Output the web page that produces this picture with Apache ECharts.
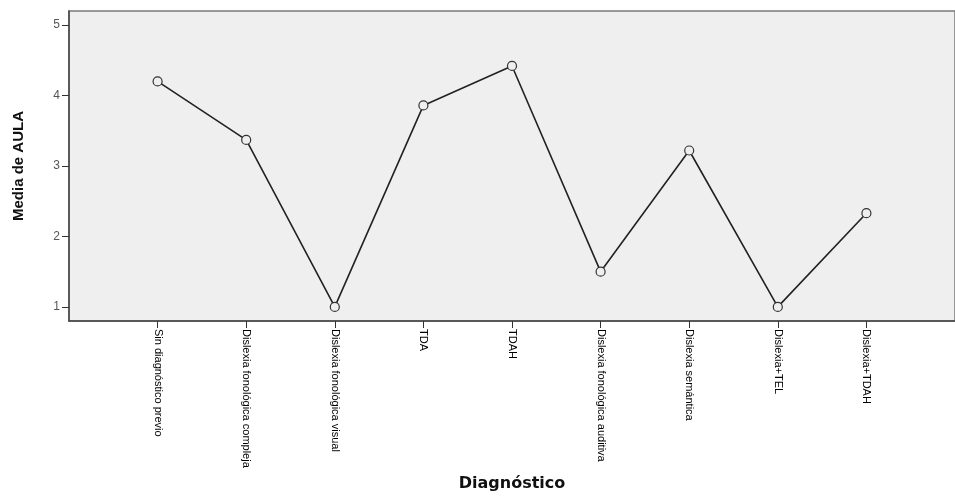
<!DOCTYPE html>
<html>
<head>
<meta charset="utf-8">
<script src="https://cdn.jsdelivr.net/npm/echarts@6/dist/echarts.min.js"></script>
<style>
  html, body { margin: 0; padding: 0; background: #fff; }
  #chart { width: 955px; height: 497px; }
</style>
</head>
<body>
<div id="chart"></div>
<script>
// Diagnostic groups along the horizontal axis
const categories = [
  'Sin diagnóstico previo',
  'Dislexia fonológica compleja',
  'Dislexia fonológica visual',
  'TDA',
  'TDAH',
  'Dislexia fonológica auditiva',
  'Dislexia semántica',
  'Dislexia+TEL',
  'Dislexia+TDAH'
];

// Mean AULA score for each group
const meanAula = [4.20, 3.37, 1.00, 3.86, 4.42, 1.50, 3.22, 1.00, 2.33];

// Vertical tick values
const yTicks = [1, 2, 3, 4, 5];

// Categories sit at positions 1..n on a 0..n+1 scale
const positions = categories.map((_, i) => i + 1);
const points = meanAula.map((v, i) => [positions[i], v]);

const labelFont = "'Liberation Sans', Arial, sans-serif";
const titleFont = "'Liberation Sans', Arial, sans-serif";
const xTitleFont = "'DejaVu Sans', Verdana, sans-serif";

const chart = echarts.init(document.getElementById('chart'), null, { renderer: 'canvas' });

chart.setOption({
  animation: false,
  backgroundColor: '#ffffff',
  grid: {
    left: 69,
    top: 11,
    width: 896,
    height: 315,
    show: true,
    backgroundColor: '#efefef',
    borderColor: '#7a7a7a',
    borderWidth: 1.5
  },
  xAxis: {
    type: 'value',
    min: 0,
    max: categories.length + 1,
    name: 'Diagnóstico',
    nameLocation: 'middle',
    nameGap: 155,
    nameTextStyle: {
      fontFamily: xTitleFont,
      fontWeight: 'bold',
      fontSize: 16,
      color: '#111'
    },
    splitLine: { show: false },
    axisLine: { show: true, lineStyle: { color: '#444', width: 1.5 } },
    axisTick: {
      show: true,
      customValues: positions,
      length: 7,
      lineStyle: { color: '#333', width: 1 }
    },
    axisLabel: {
      customValues: positions,
      rotate: -90,
      margin: 8,
      fontFamily: labelFont,
      fontSize: 11,
      color: '#000',
      formatter: (v) => categories[Math.round(v) - 1] || ''
    }
  },
  yAxis: {
    type: 'value',
    min: 0.8,
    max: 5.2,
    name: 'Media de AULA',
    nameLocation: 'middle',
    nameGap: 43,
    nameTextStyle: {
      fontFamily: titleFont,
      fontWeight: 'bold',
      fontSize: 15,
      color: '#111'
    },
    splitLine: { show: false },
    axisLine: { show: true, lineStyle: { color: '#444', width: 1.5 } },
    axisTick: {
      show: true,
      customValues: yTicks,
      length: 7,
      lineStyle: { color: '#333', width: 1 }
    },
    axisLabel: {
      customValues: yTicks,
      margin: 9,
      fontFamily: titleFont,
      fontSize: 12,
      color: '#555'
    }
  },
  series: [{
    type: 'line',
    data: points,
    symbol: 'circle',
    symbolSize: 9,
    lineStyle: { color: '#222', width: 1.6 },
    itemStyle: { color: '#efefef', borderColor: '#333', borderWidth: 1.2 },
    z: 3
  }]
});
</script>
</body>
</html>
